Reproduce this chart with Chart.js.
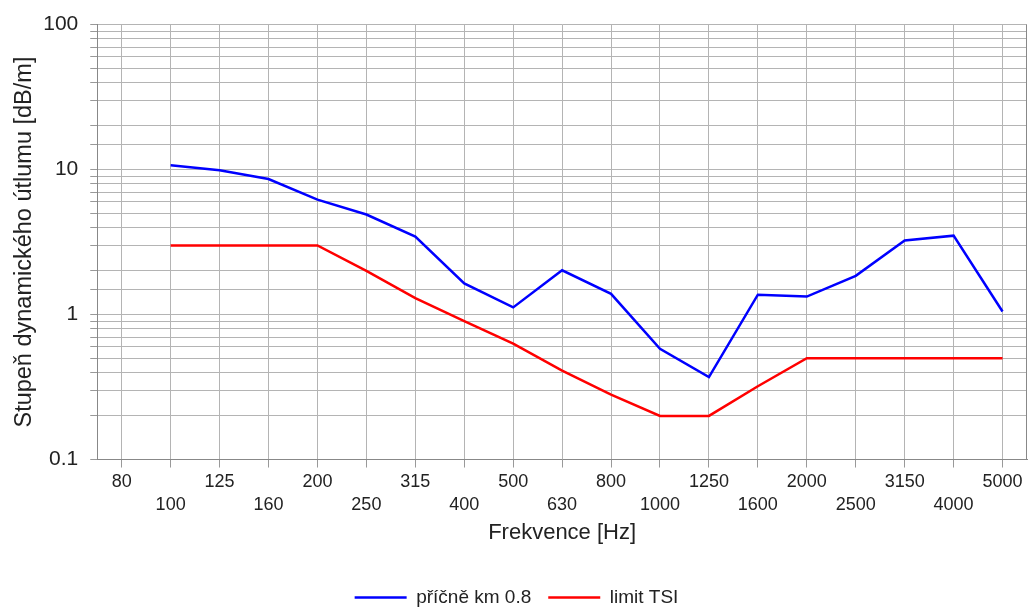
<!DOCTYPE html>
<html>
<head>
<meta charset="utf-8">
<script src="https://cdn.jsdelivr.net/npm/chart.js@4.4.1/dist/chart.umd.min.js"></script>
<style>
	html, body { margin: 0; padding: 0; background: #fff; }
	#wrap { width: 1029px; height: 610px; }
</style>
</head>
<body>
<div id="wrap"><canvas id="chart"></canvas></div>
<script>
// third-octave bands
const frequencies = ['80', '100', '125', '160', '200', '250', '315', '400', '500', '630',
	'800', '1000', '1250', '1600', '2000', '2500', '3150', '4000', '5000']
// measured values (dB/m)
const pricne = [null, 10.7, 9.9, 8.6, 6.2, 4.9, 3.45, 1.64, 1.12, 2.02,
	1.39, 0.58, 0.37, 1.37, 1.33, 1.85, 3.24, 3.5, 1.05]
// limit line
const limitTSI = [null, 3, 3, 3, 3, 2, 1.3, 0.9, 0.63, 0.41,
	0.28, 0.2, 0.2, 0.32, 0.5, 0.5, 0.5, 0.5, 0.5]
const yTickLabels = ['0.1', '1', '10', '100']

const fontFamily = "'Liberation Sans', Arial, sans-serif"
const gridColor = '#b4b4b4'
const textColor = '#222'

//draws the right edge of the plot frame
const frameBorder = {
	id: 'frameBorder',
	beforeDatasetsDraw(chart) {
		const { ctx, chartArea } = chart
		ctx.save()
		ctx.strokeStyle = '#888'
		ctx.lineWidth = 1
		ctx.beginPath()
		ctx.moveTo(chartArea.right - 0.5, chartArea.top)
		ctx.lineTo(chartArea.right - 0.5, chartArea.bottom)
		ctx.stroke()
		ctx.restore()
	}
}

const data = {
	labels: frequencies,
	datasets: [
		{
			label: 'příčně km 0.8',
			data: pricne,
			borderColor: 'rgb(0, 0, 255)',
			backgroundColor: 'rgb(0, 0, 255)',
			borderWidth: 2.5,
			pointRadius: 0,
			tension: 0
		},
		{
			label: 'limit TSI',
			data: limitTSI,
			borderColor: 'rgb(255, 0, 0)',
			backgroundColor: 'rgb(255, 0, 0)',
			borderWidth: 2.5,
			pointRadius: 0,
			tension: 0
		}
	]
}

const config = {
	type: 'line',
	data: data,
	plugins: [frameBorder],
	options: {
		responsive: true,
		maintainAspectRatio: false,
		animation: false,
		layout: { padding: { top: 5, right: 2, left: 6, bottom: -7 } },
		plugins: {
			tooltip: { enabled: false },
			legend: {
				position: 'bottom',
				labels: {
					usePointStyle: true,
					pointStyle: 'line',
					pointStyleWidth: 52,
					padding: 17,
					color: textColor,
					font: { family: fontFamily, size: 19 }
				}
			}
		},
		scales: {
			x: {
				offset: true,
				grid: { offset: false, color: gridColor, tickColor: '#999', tickLength: 8 },
				border: { color: '#888' },
				ticks: {
					autoSkip: false,
					maxRotation: 0,
					padding: 3,
					color: textColor,
					font: { family: fontFamily, size: 18, lineHeight: 1.28 },
					// alternate labels between two rows
					callback: (value, index) => index % 2 === 0 ? [frequencies[index], ''] : ['', frequencies[index]]
				},
				title: {
					display: true,
					text: 'Frekvence [Hz]',
					color: textColor,
					font: { family: fontFamily, size: 22 },
					padding: { top: 0, bottom: 25 }
				}
			},
			y: {
				type: 'logarithmic',
				min: 0.1,
				max: 100,
				grid: { color: gridColor, tickColor: '#999', tickLength: 7 },
				border: { color: '#888' },
				ticks: {
					autoSkip: false,
					padding: 12,
					color: textColor,
					font: { family: fontFamily, size: 21 },
					callback: (value) => {
						let label = String(+value.toPrecision(3))
						return yTickLabels.includes(label) ? label : ''
					}
				},
				title: {
					display: true,
					text: 'Stupeň dynamického útlumu [dB/m]',
					color: textColor,
					font: { family: fontFamily, size: 23.5 },
					padding: { top: 4, bottom: -7 }
				}
			}
		}
	}
}

const chart = new Chart(document.querySelector('#chart'), config)
</script>
</body>
</html>
